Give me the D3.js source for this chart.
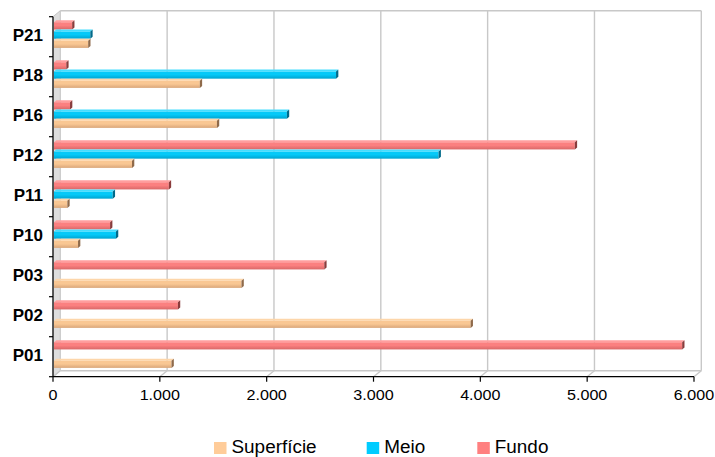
<!DOCTYPE html>
<html>
<head>
<meta charset="utf-8">
<script src="https://cdn.jsdelivr.net/npm/d3@7"></script>
<style>
  html, body { margin: 0; padding: 0; background: #fff; }
  svg { display: block; }
  text { font-family: "Liberation Sans", Arial, sans-serif; }
</style>
</head>
<body>
<svg id="chart" width="715" height="457"></svg>
<script>
// Sampling points, listed top to bottom as they appear on the chart
const categories = ["P21", "P18", "P16", "P12", "P11", "P10", "P03", "P02", "P01"];
const seriesNames = ["Superfície", "Meio", "Fundo"];
// Values per depth level (null = not sampled)
const superficie = [320, 1365, 1525, 730, 125, 225, 1755, 3900, 1100];
const meio       = [340, 2640, 2180, 3600, 550, 580, null, null, null];
const fundo      = [170, 115, 150, 4875, 1075, 525, 2530, 1160, 5880];
const xTicks = [0, 1000, 2000, 3000, 4000, 5000, 6000];

const seriesValues = { "Superfície": superficie, "Meio": meio, "Fundo": fundo };
const palette = {
  "Superfície": { swatch: "#ffcc99", top: "#fdd6aa", f0: "#f9c793", f1: "#d9a67a", cap: "#8f6a4a" },
  "Meio":       { swatch: "#00ccff", top: "#45ddff", f0: "#05c9f8", f1: "#00a4d0", cap: "#006a8a" },
  "Fundo":      { swatch: "#ff8080", top: "#ff9e9e", f0: "#fb8080", f1: "#d86868", cap: "#8a3c3c" }
};

const svg = d3.select("#chart");
const fmt = v => d3.format(",")(v).replace(/,/g, ".");

// Front plane scales
const x = d3.scaleLinear().domain([0, 6000]).range([53, 694]);
const y = d3.scaleBand().domain(categories).range([16.7, 376.7]);
// Depth of the 3D box (back wall offset)
const DX = 7.3, DY = -6;
const plotTop = 16.7, plotBottom = 376.7;

// Slots inside each category band, top to bottom
const slot = d3.scaleBand().domain(["Fundo", "Meio", "Superfície"]).range([3.5, 31.2]);

// Gradients for bar front faces
const defs = svg.append("defs");
seriesNames.forEach((s, i) => {
  const g = defs.append("linearGradient").attr("id", "g" + i)
    .attr("x1", 0).attr("y1", 0).attr("x2", 0).attr("y2", 1);
  g.append("stop").attr("offset", "0%").attr("stop-color", palette[s].f0);
  g.append("stop").attr("offset", "45%").attr("stop-color", palette[s].f0);
  g.append("stop").attr("offset", "100%").attr("stop-color", palette[s].f1);
});

// Left wall
svg.append("path")
  .attr("d", `M${x(0)},${plotTop}L${x(0)+DX},${plotTop+DY}L${x(0)+DX},${plotBottom+DY}L${x(0)},${plotBottom}Z`)
  .attr("fill", "#dedede").attr("stroke", "#c4c4c4").attr("stroke-width", 1);

// Back wall outline and gridlines
const grid = svg.append("g").attr("stroke", "#c8c8c8").attr("stroke-width", 1.4).attr("fill", "none");
grid.append("line").attr("x1", x(0)+DX).attr("x2", x(6000)+DX)
  .attr("y1", plotTop+DY).attr("y2", plotTop+DY);
grid.selectAll("line.v").data(xTicks.slice(1)).join("line").attr("class", "v")
  .attr("x1", d => x(d)+DX).attr("x2", d => x(d)+DX)
  .attr("y1", plotTop+DY).attr("y2", plotBottom+DY);
// Floor
grid.append("line").attr("x1", x(0)+DX).attr("x2", x(6000)+DX)
  .attr("y1", plotBottom+DY).attr("y2", plotBottom+DY);
grid.selectAll("line.d").data(xTicks).join("line").attr("class", "d")
  .attr("x1", d => x(d)).attr("x2", d => x(d)+DX)
  .attr("y1", plotBottom).attr("y2", plotBottom+DY);

// Bars
const BD = 2.3, BTop = 2;
const barsG = svg.append("g");
categories.forEach((c, ci) => {
  seriesNames.slice().reverse().forEach(s => {
    const v = seriesValues[s][ci];
    if (v == null) return;
    const si = seriesNames.indexOf(s);
    const p = palette[s];
    const x0 = x(0) + 1, x1 = x(v) + 1;
    const yt = y(c) + slot(s), h = slot.bandwidth();
    const g = barsG.append("g");
    g.append("rect").attr("x", x0).attr("y", yt + BTop).attr("width", x1 - x0).attr("height", h - BTop)
      .attr("fill", `url(#g${si})`);
    g.append("path")
      .attr("d", `M${x0},${yt+BTop}L${x1},${yt+BTop}L${x1+BD},${yt}L${x0+BD},${yt}Z`)
      .attr("fill", p.top);
    g.append("path")
      .attr("d", `M${x1},${yt+BTop}L${x1+BD},${yt}L${x1+BD},${yt+h-BTop}L${x1},${yt+h}Z`)
      .attr("fill", p.cap);
  });
});

// Axes
svg.append("line").attr("x1", x(0)).attr("x2", x(6000)).attr("y1", plotBottom).attr("y2", plotBottom)
  .attr("stroke", "#000").attr("stroke-width", 1.2);
svg.append("line").attr("x1", x(0)).attr("x2", x(0)).attr("y1", plotTop).attr("y2", plotBottom)
  .attr("stroke", "#000").attr("stroke-width", 1.2);
svg.append("g").selectAll("line").data(xTicks).join("line")
  .attr("x1", d => x(d)).attr("x2", d => x(d)).attr("y1", plotBottom).attr("y2", plotBottom + 5)
  .attr("stroke", "#000").attr("stroke-width", 1.2);
const yTickPos = categories.map(c => y(c)).concat([plotBottom]);
svg.append("g").selectAll("line").data(yTickPos).join("line")
  .attr("x1", x(0) - 4).attr("x2", x(0)).attr("y1", d => d).attr("y2", d => d)
  .attr("stroke", "#000").attr("stroke-width", 1.2);

function stretch(sel, k) {
  sel.each(function () {
    const w = this.getComputedTextLength();
    d3.select(this).attr("textLength", w * k).attr("lengthAdjust", "spacingAndGlyphs");
  });
}

// X tick labels
const xl = svg.append("g").selectAll("text").data(xTicks).join("text")
  .attr("x", d => x(d)).attr("y", 399.5)
  .attr("text-anchor", "middle").attr("font-size", 15.5).attr("fill", "#000")
  .text(d => fmt(d));
stretch(xl, 1.04);

// Category labels
svg.append("g").selectAll("text").data(categories).join("text")
  .attr("x", 43).attr("y", c => y(c) + y.bandwidth() / 2 + 4)
  .attr("text-anchor", "end").attr("font-size", 17).attr("font-weight", "bold").attr("fill", "#000")
  .text(c => c);

// Legend
const legendX = { "Superfície": 214, "Meio": 366.7, "Fundo": 477.3 };
const lg = svg.append("g").selectAll("g").data(seriesNames).join("g")
  .attr("transform", s => `translate(${legendX[s]},442)`);
lg.append("rect").attr("width", 12.5).attr("height", 12).attr("fill", s => palette[s].swatch);
const lt = lg.append("text").attr("x", 17.5).attr("y", 11.3).attr("font-size", 17.5).attr("fill", "#000")
  .text(s => s);
stretch(lt, 1.08);
</script>
</body>
</html>
